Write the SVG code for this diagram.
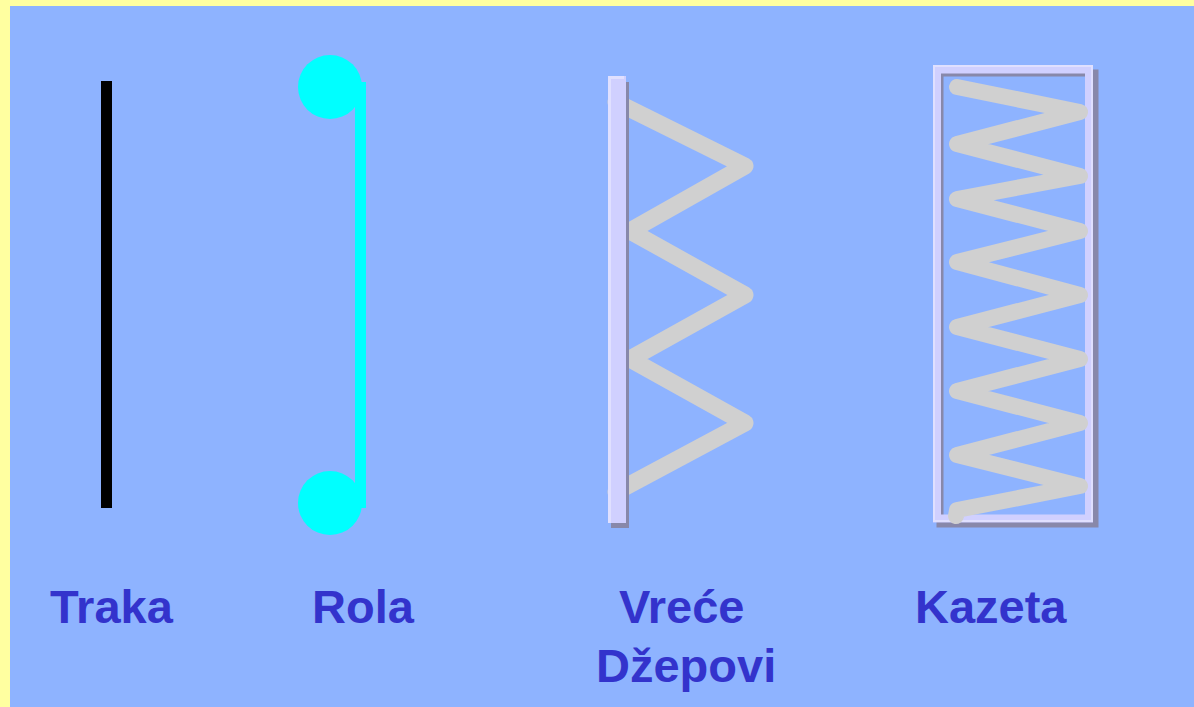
<svg xmlns="http://www.w3.org/2000/svg" width="1194" height="707" viewBox="0 0 1194 707">
<style>
.lbl{font-family:"Liberation Sans",Arial,sans-serif;font-weight:bold;font-size:47px;fill:#3333CC}
.zig{fill:none;stroke:#D0D0D0;stroke-linejoin:round;stroke-linecap:round}
</style>
<rect x="0" y="0" width="1194" height="707" fill="#FFFFA0"/>
<rect x="10" y="6" width="1184" height="701" fill="#8EB3FF"/>
<g id="traka">
<rect x="101" y="81" width="11" height="427" fill="#000000"/>
<text class="lbl" x="50" y="623">Traka</text>
</g>
<g id="rola">
<rect x="355" y="82" width="11" height="426" fill="#00FFFF"/>
<circle cx="330" cy="87" r="32" fill="#00FFFF"/>
<circle cx="330" cy="503" r="32" fill="#00FFFF"/>
<text class="lbl" x="312" y="623">Rola</text>
</g>
<g id="vrece">
<path class="zig" stroke-width="17" d="M616 102 L745 166 L630 231 L745 295 L630 359 L745 423 L616 492"/>
<rect x="611" y="82" width="18" height="446" fill="#8888AA"/>
<rect x="608" y="76" width="18" height="447" fill="#D0D0FF"/>
<rect x="608" y="76" width="3" height="447" fill="#E0E0FF"/>
<rect x="608" y="76" width="16" height="3" fill="#E0E0FF"/>
<text class="lbl" x="619" y="623">Vreće</text>
<text class="lbl" x="596" y="682">Džepovi</text>
</g>
<g id="kazeta">
<rect x="940" y="73" width="155" height="451" fill="none" stroke="#8888AA" stroke-width="7"/>
<rect x="937" y="69.5" width="152" height="449" fill="none" stroke="#D0D0FF" stroke-width="8"/>
<rect x="934" y="66" width="158" height="455" fill="none" stroke="#E0E0FF" stroke-width="2"/>
<path class="zig" stroke-width="16" d="M957 87 L1080 112 L957 144 L1080 176 L957 199 L1080 231 L957 262 L1080 295 L957 327 L1080 359 L957 391 L1080 423 L957 455 L1080 486 L957 510 L956 516"/>
<text class="lbl" x="915" y="623">Kazeta</text>
</g>
</svg>
